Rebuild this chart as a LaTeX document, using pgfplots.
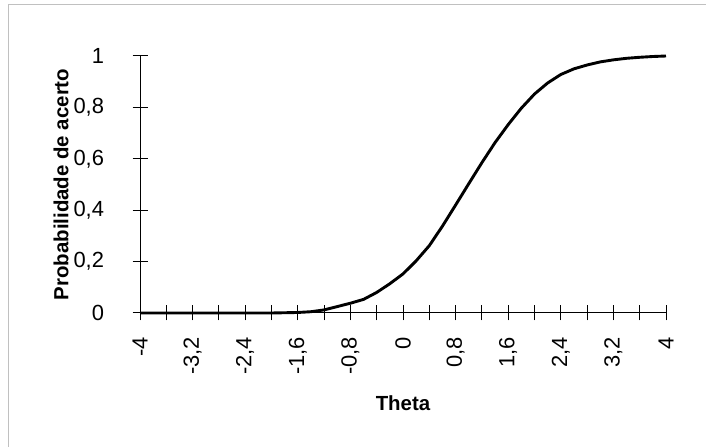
\documentclass[border=0pt]{standalone}
\usepackage{pgfplots}
\pgfplotsset{compat=1.18}
\usepackage{fontspec}
\setmainfont{Liberation Sans}
\definecolor{framegray}{HTML}{C0C0C0}
\begin{document}
\begin{tikzpicture}
\useasboundingbox (0bp,0bp) rectangle (706bp,447bp);
\draw[draw=framegray, line width=1bp] (8bp,0bp) -- (8bp,442bp) -- (706bp,442bp);
\begin{axis}[
  at={(140bp,134bp)}, anchor=south west,
  scale only axis, width=526bp, height=257bp,
  xmin=-4, xmax=4, ymin=0, ymax=1,
  axis lines=left, axis line style={-, line width=1bp, black},
  tick align=center, major tick length=15bp,
  tick style={black, line width=1bp},
  xtick={-4,-3.6,-3.2,-2.8,-2.4,-2,-1.6,-1.2,-0.8,-0.4,0,0.4,0.8,1.2,1.6,2,2.4,2.8,3.2,3.6,4},
  xticklabels={-4,,{-3,2},,{-2,4},,{-1,6},,{-0,8},,0,,{0,8},,{1,6},,{2,4},,{3,2},,4},
  ytick={0,0.2,0.4,0.6,0.8,1},
  yticklabels={0,{0,2},{0,4},{0,6},{0,8},1},
  xticklabel style={rotate=90, anchor=east, xshift=-13bp, font=\fontsize{22}{26}\selectfont},
  yticklabel style={anchor=east, xshift=-25bp, font=\fontsize{22}{26}\selectfont},
  xlabel={Theta}, ylabel={Probabilidade de acerto},
  xlabel style={at={(axis description cs:0.5,0)}, anchor=center, yshift=-90bp, font=\fontsize{20.5}{24}\selectfont\bfseries},
  ylabel style={at={(axis description cs:0,0.5)}, anchor=center, yshift=79bp, font=\fontsize{20.5}{24}\selectfont\bfseries},
  clip=false,
]
\addplot[black, line width=2.9bp, line join=round] table {
x y
-4 0
-3.6 0
-3.2 0
-2.8 0
-2.4 0
-2.0 0
-1.6 0.002
-1.4 0.005
-1.2 0.012
-1.0 0.025
-0.8 0.038
-0.6 0.053
-0.4 0.080
-0.2 0.114
0.0 0.152
0.2 0.203
0.4 0.262
0.6 0.338
0.8 0.420
1.0 0.503
1.2 0.585
1.4 0.663
1.6 0.733
1.8 0.797
2.0 0.852
2.2 0.895
2.4 0.928
2.6 0.950
2.8 0.965
3.0 0.977
3.2 0.985
3.4 0.991
3.6 0.995
3.8 0.998
4.0 1.000
};
\end{axis}
\end{tikzpicture}
\end{document}
